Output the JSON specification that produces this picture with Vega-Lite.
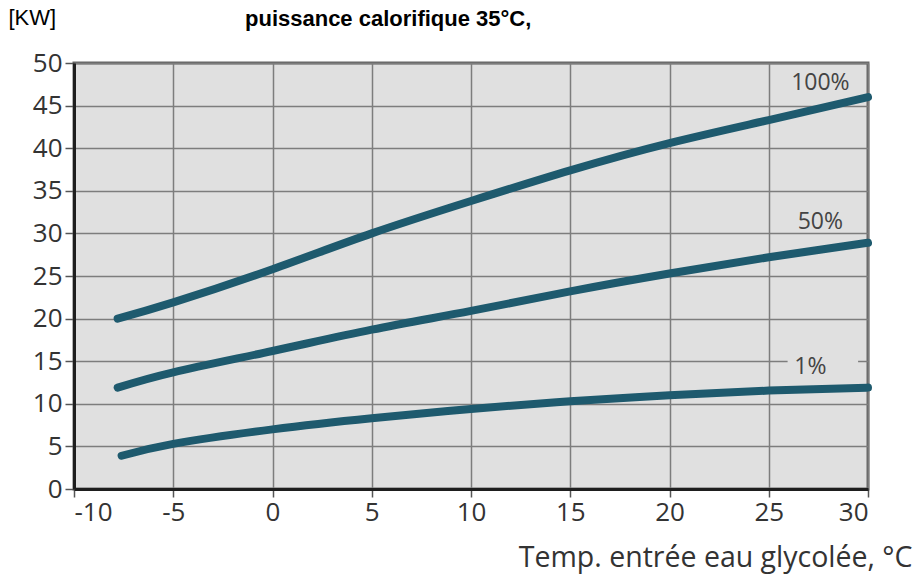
{
  "$schema": "https://vega.github.io/schema/vega-lite/v6.json",
  "autosize": {"type": "none"},
  "width": 794,
  "height": 426,
  "padding": {"top": 63, "left": 74, "right": 48, "bottom": 95},
  "background": "white",
  "title": {
    "text": "puissance calorifique 35°C,",
    "anchor": "start",
    "frame": "group",
    "dx": 171,
    "offset": -41.5,
    "baseline": "alphabetic",
    "font": "Liberation Sans",
    "fontSize": 22,
    "fontWeight": "bold",
    "color": "black"
  },
  "config": {
    "view": {"fill": "#e0e0e0", "stroke": "#666666", "strokeWidth": 3},
    "axis": {
      "domainColor": "#1e1e1e",
      "domainWidth": 3,
      "grid": true,
      "gridColor": "#7d7d7d",
      "gridWidth": 1.5,
      "gridOpacity": 1,
      "tickColor": "#555555",
      "tickWidth": 1.5,
      "labelFont": "Open Sans",
      "labelFontSize": 26,
      "labelColor": "#333333",
      "labelExpr": "toString(datum.value)",
      "titleFont": "Open Sans",
      "titleFontWeight": "normal",
      "titleColor": "#333333"
    }
  },
  "datasets": {
    "curves": [
      {"serie": "100%", "t": -7.8, "p": 20.0},
      {"serie": "100%", "t": -5, "p": 21.9},
      {"serie": "100%", "t": 0, "p": 25.8},
      {"serie": "100%", "t": 5, "p": 30.0},
      {"serie": "100%", "t": 10, "p": 33.8},
      {"serie": "100%", "t": 15, "p": 37.4},
      {"serie": "100%", "t": 20, "p": 40.6},
      {"serie": "100%", "t": 25, "p": 43.3},
      {"serie": "100%", "t": 30, "p": 46.0},
      {"serie": "50%", "t": -7.8, "p": 11.9},
      {"serie": "50%", "t": -5, "p": 13.7},
      {"serie": "50%", "t": 0, "p": 16.2},
      {"serie": "50%", "t": 5, "p": 18.7},
      {"serie": "50%", "t": 10, "p": 20.9},
      {"serie": "50%", "t": 15, "p": 23.2},
      {"serie": "50%", "t": 20, "p": 25.3},
      {"serie": "50%", "t": 25, "p": 27.2},
      {"serie": "50%", "t": 30, "p": 28.9},
      {"serie": "1%", "t": -7.6, "p": 3.9},
      {"serie": "1%", "t": -5, "p": 5.3},
      {"serie": "1%", "t": 0, "p": 7.0},
      {"serie": "1%", "t": 5, "p": 8.3},
      {"serie": "1%", "t": 10, "p": 9.4},
      {"serie": "1%", "t": 15, "p": 10.3},
      {"serie": "1%", "t": 20, "p": 11.0},
      {"serie": "1%", "t": 25, "p": 11.55},
      {"serie": "1%", "t": 30, "p": 11.9}
    ],
    "labels": [
      {"serie": "100%", "t": 27.6, "p": 47.6},
      {"serie": "50%", "t": 27.6, "p": 31.3},
      {"serie": "1%", "t": 27.1, "p": 14.35}
    ],
    "gaps": [
      {"t1": 25.95, "t2": 29.5, "p1": 14.7, "p2": 15.3}
    ]
  },
  "layer": [
    {
      "data": {"name": "gaps"},
      "mark": {"type": "rect", "fill": "#e0e0e0"},
      "encoding": {
        "x": {"field": "t1", "type": "quantitative"},
        "x2": {"field": "t2"},
        "y": {"field": "p1", "type": "quantitative"},
        "y2": {"field": "p2"}
      }
    },
    {
      "data": {"name": "curves"},
      "mark": {"type": "line", "interpolate": "natural", "strokeWidth": 8, "strokeCap": "round", "strokeJoin": "round", "color": "#1e5a6e", "clip": false},
      "encoding": {
        "x": {
          "field": "t",
          "type": "quantitative",
          "scale": {"domain": [-10, 30], "nice": false, "zero": false},
          "axis": {
            "values": [-10, -5, 0, 5, 10, 15, 20, 25, 30],
            "tickSize": 8,
            "labelPadding": 2,
            "title": "Temp. entrée eau glycolée, °C",
            "titleFontSize": 28.5,
            "titleAlign": "right",
            "titleAnchor": "start",
            "titleX": 838,
            "titleY": 77,
            "titleBaseline": "alphabetic"
          }
        },
        "y": {
          "field": "p",
          "type": "quantitative",
          "scale": {"domain": [0, 50], "nice": false},
          "axis": {
            "values": [0, 5, 10, 15, 20, 25, 30, 35, 40, 45, 50],
            "tickSize": 9,
            "labelPadding": 3,
            "title": "[KW]",
            "titleFont": "Liberation Sans",
            "titleFontSize": 22,
            "titleColor": "black",
            "titleAngle": 0,
            "titleAlign": "left",
            "titleAnchor": "start",
            "titleX": -66,
            "titleY": -38.5,
            "titleBaseline": "alphabetic"
          }
        },
        "detail": {"field": "serie"}
      }
    },
    {
      "data": {"name": "labels"},
      "mark": {"type": "text", "font": "Open Sans", "fontSize": 23, "color": "#444444", "align": "center", "baseline": "middle"},
      "encoding": {
        "x": {"field": "t", "type": "quantitative"},
        "y": {"field": "p", "type": "quantitative"},
        "text": {"field": "serie"}
      }
    }
  ]
}
